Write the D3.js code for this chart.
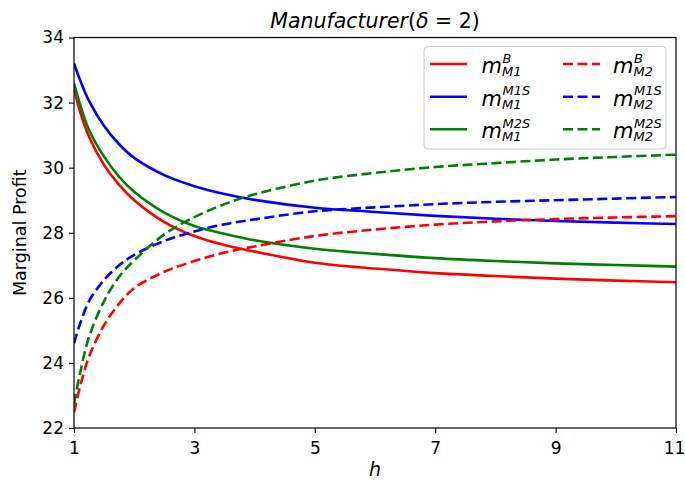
<!DOCTYPE html>
<html>
<head>
<meta charset="utf-8">
<script src="https://cdn.jsdelivr.net/npm/d3@7"></script>
<style>
  html, body { margin: 0; padding: 0; background: #fff; }
  svg { display: block; font-family: "DejaVu Sans", sans-serif; }
</style>
</head>
<body>
<svg id="chart" width="685" height="486"></svg>
<script>
// ---- data ----
const hValues = [1, 1.1, 1.25, 1.5, 1.75, 2, 2.5, 3, 3.5, 4, 5, 6, 7, 8, 9, 10, 11];
const mM1_B   = [32.45, 31.72, 30.95, 30.08, 29.47, 29.0, 28.33, 27.9, 27.62, 27.42, 27.08, 26.9, 26.76, 26.67, 26.59, 26.53, 26.48];
const mM1_M1S = [33.2, 32.7, 32.05, 31.28, 30.72, 30.3, 29.77, 29.43, 29.19, 29.01, 28.77, 28.64, 28.52, 28.43, 28.36, 28.31, 28.27];
const mM1_M2S = [32.6, 31.95, 31.16, 30.34, 29.72, 29.26, 28.62, 28.21, 27.97, 27.77, 27.51, 27.35, 27.22, 27.13, 27.06, 27.01, 26.96];
const mM2_B   = [22.48, 23.27, 24.19, 25.16, 25.82, 26.3, 26.8, 27.13, 27.39, 27.58, 27.9, 28.1, 28.25, 28.35, 28.42, 28.47, 28.51];
const mM2_M1S = [24.6, 25.2, 25.9, 26.55, 27.0, 27.32, 27.75, 28.04, 28.26, 28.41, 28.66, 28.78, 28.88, 28.95, 29.0, 29.05, 29.1];
const mM2_M2S = [22.75, 23.68, 24.8, 25.9, 26.65, 27.15, 27.95, 28.48, 28.88, 29.18, 29.6, 29.84, 30.02, 30.14, 30.25, 30.33, 30.4];
const xTicks = [1, 3, 5, 7, 9, 11];
const yTicks = [22, 24, 26, 28, 30, 32, 34];

const seriesList = [
  { values: mM1_B,   color: "#ff0000", dashed: false, sup: "B",   sub: "M1" },
  { values: mM1_M1S, color: "#0000ff", dashed: false, sup: "M1S", sub: "M1" },
  { values: mM1_M2S, color: "#008000", dashed: false, sup: "M2S", sub: "M1" },
  { values: mM2_B,   color: "#ff0000", dashed: true,  sup: "B",   sub: "M2" },
  { values: mM2_M1S, color: "#0000ff", dashed: true,  sup: "M1S", sub: "M2" },
  { values: mM2_M2S, color: "#008000", dashed: true,  sup: "M2S", sub: "M2" }
];

// ---- layout ----
const svg = d3.select("#chart");
const L = 74, R = 676, T = 37.5, B = 428;
const x = d3.scaleLinear().domain([1, 11]).range([L, R]);
const y = d3.scaleLinear().domain([22, 34]).range([B, T]);
const DASH = "10,4.5";
const LW = 2.6;

svg.append("defs").append("clipPath").attr("id", "clip")
  .append("rect").attr("x", L).attr("y", T).attr("width", R - L).attr("height", B - T);

// lines
const line = d3.line().x((d, i) => x(hValues[i])).y(d => y(d)).curve(d3.curveCatmullRom.alpha(0.5));
const gLines = svg.append("g").attr("clip-path", "url(#clip)");
seriesList.forEach(s => {
  gLines.append("path")
    .attr("d", line(s.values))
    .attr("fill", "none")
    .attr("stroke", s.color)
    .attr("stroke-width", LW)
    .attr("stroke-dasharray", s.dashed ? DASH : null);
});

// axes
const xAxis = svg.append("g").attr("transform", `translate(0,${B})`)
  .call(d3.axisBottom(x).tickValues(xTicks).tickFormat(d3.format("d")).tickSize(5).tickPadding(5));
const yAxis = svg.append("g").attr("transform", `translate(${L},0)`)
  .call(d3.axisLeft(y).tickValues(yTicks).tickFormat(d3.format("d")).tickSize(5).tickPadding(5));
[xAxis, yAxis].forEach(g => {
  g.select(".domain").remove();
  g.selectAll("line").attr("stroke", "#000").attr("stroke-width", 1.1);
  g.selectAll("text").attr("fill", "#000").style("font-size", "17px").style("font-family", "DejaVu Sans");
});
xAxis.selectAll("text").attr("dy", "0.95em");
// keep the last tick label inside the picture
xAxis.selectAll(".tick").filter(d => d === 11).select("text").attr("dx", "-2");

// frame
svg.append("rect").attr("x", L).attr("y", T).attr("width", R - L).attr("height", B - T)
  .attr("fill", "none").attr("stroke", "#000").attr("stroke-width", 1.2);

// title
const title = svg.append("text").attr("x", (L + R) / 2).attr("y", 28)
  .attr("text-anchor", "middle").style("font-size", "20.5px");
title.append("tspan").style("font-style", "italic").text("Manufacturer");
title.append("tspan").text("(");
title.append("tspan").style("font-style", "italic").text("δ");
title.append("tspan").text(" = 2)");

// axis labels
svg.append("text").attr("x", (L + R) / 2).attr("y", 476)
  .attr("text-anchor", "middle").style("font-size", "19px").style("font-style", "italic").text("h");
svg.append("text").attr("transform", `translate(26,${(T + B) / 2}) rotate(-90)`)
  .attr("text-anchor", "middle").style("font-size", "17.5px").text("Marginal Profit");

// legend
const lg = svg.append("g");
lg.append("rect").attr("x", 424).attr("y", 46.5).attr("width", 242).attr("height", 102.5)
  .attr("rx", 4).attr("fill", "#fff").attr("fill-opacity", 0.8)
  .attr("stroke", "#cccccc").attr("stroke-width", 1);
const rowY = [64, 96.7, 129.3];
seriesList.forEach((s, i) => {
  const col = s.dashed ? 1 : 0;
  const row = i % 3;
  const cy = rowY[row];
  const hx = col === 0 ? 430 : 563;
  lg.append("line").attr("x1", hx).attr("x2", hx + 37).attr("y1", cy).attr("y2", cy)
    .attr("stroke", s.color).attr("stroke-width", LW)
    .attr("stroke-dasharray", s.dashed ? DASH : null);
  const tx = col === 0 ? 481.5 : 613;
  const base = cy + 9;
  const t = lg.append("text").attr("x", tx).attr("y", base).style("font-style", "italic");
  t.append("tspan").style("font-size", "21px").text("m");
  t.append("tspan").attr("x", tx + 21).attr("y", base - 10.5).style("font-size", "13px").text(s.sup);
  t.append("tspan").attr("x", tx + 20.5).attr("y", base + 3).style("font-size", "13px").text(s.sub);
});
</script>
</body>
</html>
